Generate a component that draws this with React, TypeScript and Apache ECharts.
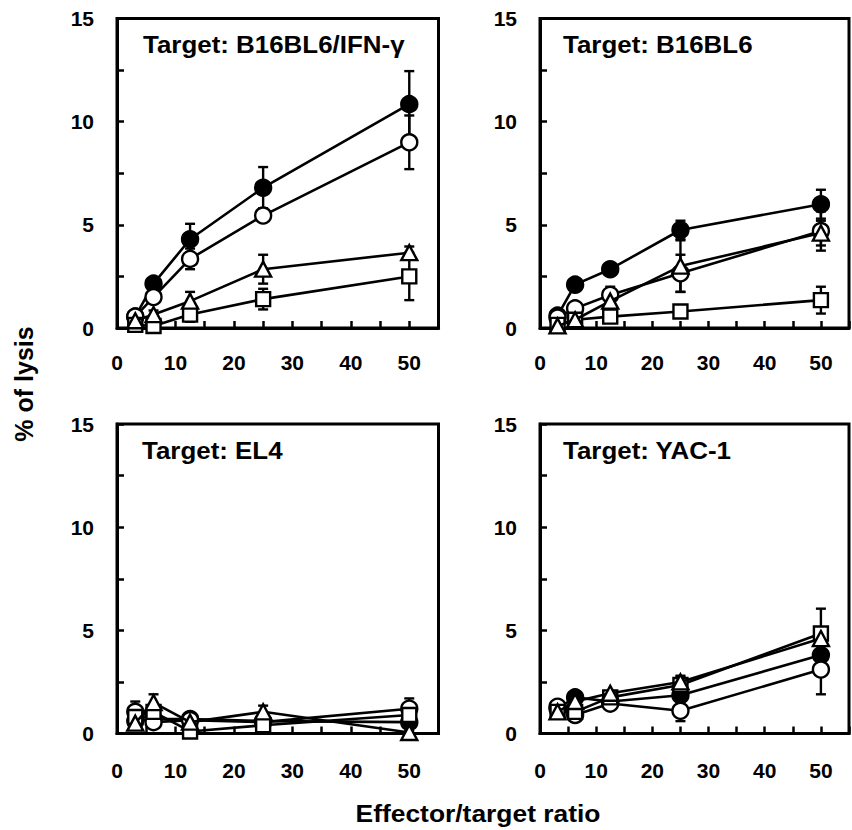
import React, { useEffect, useRef } from "react";
import * as echarts from "echarts";

// E/T ratios (x values)
const ratios = [3.125, 6.25, 12.5, 25, 50];
const titles = ["Target: B16BL6/IFN-γ", "Target: B16BL6", "Target: EL4", "Target: YAC-1"];
const xTicks = [0, 10, 20, 30, 40, 50];
const yTicks = [0, 5, 10, 15];

// Panel 1: B16BL6/IFN-γ
const ifnFilled = [0.55, 2.15, 4.3, 6.8, 10.85];
const ifnFilledErr = [0.1, 0.2, 0.75, 1.0, 1.6];
const ifnOpen = [0.55, 1.5, 3.35, 5.45, 9.0];
const ifnOpenErr = [0.1, 0.2, 0.5, 0.3, 1.3];
const ifnTri = [0.35, 0.65, 1.3, 2.85, 3.65];
const ifnTriErr = [0.1, 0.2, 0.45, 0.7, 0.3];
const ifnSq = [0.15, 0.1, 0.65, 1.4, 2.5];
const ifnSqErr = [0.05, 0.05, 0.35, 0.5, 1.15];

// Panel 2: B16BL6
const b16Filled = [0.6, 2.1, 2.85, 4.75, 6.0];
const b16FilledErr = [0.1, 0.15, 0.2, 0.45, 0.7];
const b16Open = [0.5, 0.95, 1.6, 2.65, 4.7];
const b16OpenErr = [0.1, 0.2, 0.2, 0.9, 0.95];
const b16Tri = [0.1, 0.4, 1.3, 3.0, 4.6];
const b16TriErr = [0.05, 0.1, 0.7, 1.25, 0.6];
const b16Sq = [0.15, 0.4, 0.55, 0.8, 1.35];
const b16SqErr = [0.05, 0.05, 0.1, 0.15, 0.65];

// Panel 3: EL4
const el4Filled = [0.6, 0.7, 0.7, 0.6, 0.55];
const el4FilledErr = [0.1, 0.1, 0.1, 0.1, 0.1];
const el4Open = [1.05, 0.55, 0.65, 0.55, 1.2];
const el4OpenErr = [0.5, 0.2, 0.15, 0.1, 0.5];
const el4Tri = [0.5, 1.5, 0.55, 1.05, 0.05];
const el4TriErr = [0.2, 0.4, 0.3, 0.3, 0.1];
const el4Sq = [0.8, 1.05, 0.1, 0.4, 0.9];
const el4SqErr = [0.3, 0.3, 0.1, 0.1, 0.3];

// Panel 4: YAC-1
const yacFilled = [1.2, 1.75, 1.55, 1.85, 3.8];
const yacFilledErr = [0.15, 0.2, 0.15, 0.2, 0.3];
const yacOpen = [1.3, 0.9, 1.45, 1.1, 3.1];
const yacOpenErr = [0.15, 0.3, 0.15, 0.5, 1.2];
const yacTri = [1.05, 1.55, 1.95, 2.5, 4.6];
const yacTriErr = [0.1, 0.2, 0.1, 0.3, 0.3];
const yacSq = [1.05, 1.05, 1.75, 2.35, 4.85];
const yacSqErr = [0.3, 0.3, 0.15, 0.4, 1.2];

const FONT = "'Liberation Sans', Arial, sans-serif";

export default function App() {
  const ref = useRef<HTMLDivElement>(null);

  useEffect(() => {
    if (!ref.current) return;
    const chart = echarts.init(ref.current, null, { renderer: "svg" });

    // drawing order: filled circle, open circle, square, triangle (triangle on top)
    const panels = [
      [[ifnFilled, ifnFilledErr], [ifnOpen, ifnOpenErr], [ifnSq, ifnSqErr], [ifnTri, ifnTriErr]],
      [[b16Filled, b16FilledErr], [b16Open, b16OpenErr], [b16Sq, b16SqErr], [b16Tri, b16TriErr]],
      [[el4Filled, el4FilledErr], [el4Open, el4OpenErr], [el4Sq, el4SqErr], [el4Tri, el4TriErr]],
      [[yacFilled, yacFilledErr], [yacOpen, yacOpenErr], [yacSq, yacSqErr], [yacTri, yacTriErr]],
    ];
    const markers = [
      { symbol: "circle", size: 16, fill: "#000" },
      { symbol: "circle", size: 16, fill: "#fff" },
      { symbol: "rect", size: 14, fill: "#fff" },
      { symbol: "triangle", size: [16, 15], fill: "#fff" },
    ];
    const gridPos = [
      { left: 117, top: 18.5 },
      { left: 540, top: 18.5 },
      { left: 117, top: 424 },
      { left: 540, top: 424 },
    ];
    const titlePos = [
      { x: 143, y: 44 },
      { x: 563, y: 44 },
      { x: 142, y: 450 },
      { x: 563, y: 450 },
    ];

    const grids = gridPos.map((g) => ({
      left: g.left,
      top: g.top,
      width: 321.5,
      height: 309.5,
      show: true,
      borderColor: "#000",
      borderWidth: 3,
      backgroundColor: "transparent",
    }));

    const xAxes = gridPos.map((_, i) => ({
      type: "value",
      gridIndex: i,
      min: 0,
      max: 55,
      interval: 5,
      axisLine: { show: true, onZero: false, lineStyle: { color: "#000", width: 3 } },
      axisTick: { show: true, inside: true, length: 7, lineStyle: { color: "#000", width: 2.5 } },
      splitLine: { show: false },
      axisLabel: {
        margin: i < 2 ? 24 : 26,
        color: "#000",
        fontWeight: "bold",
        fontSize: 21,
        fontFamily: FONT,
        formatter: (v: number) => (xTicks.indexOf(v) >= 0 ? String(v) : ""),
      },
    }));

    const yAxes = gridPos.map((_, i) => ({
      type: "value",
      gridIndex: i,
      min: 0,
      max: 15,
      interval: 2.5,
      axisLine: { show: true, onZero: false, lineStyle: { color: "#000", width: 3 } },
      axisTick: { show: true, inside: true, length: 7, lineStyle: { color: "#000", width: 2.5 } },
      splitLine: { show: false },
      axisLabel: {
        margin: 23,
        color: "#000",
        fontWeight: "bold",
        fontSize: 21,
        fontFamily: FONT,
        formatter: (v: number) => (yTicks.indexOf(v) >= 0 ? String(v) : ""),
      },
    }));

    const series: any[] = [];
    panels.forEach((panel, pi) => {
      panel.forEach(([vals, errs], si) => {
        const m = markers[si];
        series.push({
          type: "custom",
          xAxisIndex: pi,
          yAxisIndex: pi,
          z: 2,
          silent: true,
          clip: false,
          data: ratios.map((x, k) => [x, vals[k], errs[k]]),
          renderItem: (params: any, api: any) => {
            const x = api.value(0);
            const y = api.value(1);
            const e = api.value(2);
            const top = api.coord([x, y + e]);
            const bot = api.coord([x, Math.max(0, y - e)]);
            const cw = 5;
            const st = { stroke: "#000", lineWidth: 2.4 };
            return {
              type: "group",
              children: [
                { type: "line", shape: { x1: top[0], y1: top[1], x2: bot[0], y2: bot[1] }, style: st },
                { type: "line", shape: { x1: top[0] - cw, y1: top[1], x2: top[0] + cw, y2: top[1] }, style: st },
                { type: "line", shape: { x1: bot[0] - cw, y1: bot[1], x2: bot[0] + cw, y2: bot[1] }, style: st },
              ],
            };
          },
        });
        series.push({
          type: "line",
          xAxisIndex: pi,
          yAxisIndex: pi,
          z: 3 + si,
          clip: false,
          symbol: m.symbol,
          symbolSize: m.size,
          showAllSymbol: true,
          lineStyle: { color: "#000", width: 2.6 },
          itemStyle: { color: m.fill, borderColor: "#000", borderWidth: 2.4, opacity: 1 },
          data: ratios.map((x, k) => [x, vals[k]]),
        });
      });
    });

    const graphics: any[] = titles.map((t, i) => ({
      type: "text",
      x: titlePos[i].x,
      y: titlePos[i].y,
      scaleX: 1.08,
      style: {
        text: t,
        fill: "#000",
        font: `bold 24px ${FONT}`,
        textAlign: "left",
        textVerticalAlign: "middle",
      },
    }));
    graphics.push({
      type: "text",
      x: 478,
      y: 813,
      scaleX: 1.1,
      style: {
        text: "Effector/target ratio",
        fill: "#000",
        font: `bold 24px ${FONT}`,
        textAlign: "center",
        textVerticalAlign: "middle",
      },
    });
    graphics.push({
      type: "text",
      x: 24,
      y: 384,
      rotation: Math.PI / 2,
      style: {
        text: "% of lysis",
        fill: "#000",
        font: `bold 25px ${FONT}`,
        textAlign: "center",
        textVerticalAlign: "middle",
      },
    });

    chart.setOption({
      animation: false,
      backgroundColor: "#fff",
      grid: grids,
      xAxis: xAxes,
      yAxis: yAxes,
      series,
      graphic: graphics,
    });

    return () => {
      chart.dispose();
    };
  }, []);

  return (
    <div
      ref={ref}
      style={{ position: "fixed", left: 0, top: 0, width: 852, height: 830, background: "#fff" }}
    />
  );
}
